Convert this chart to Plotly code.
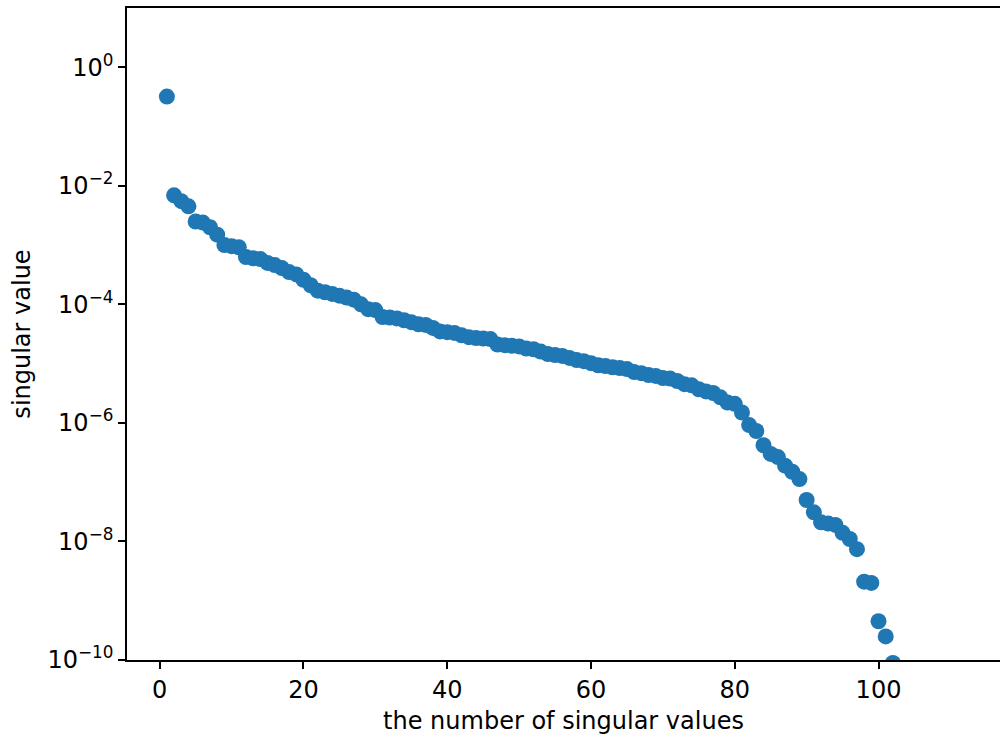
import plotly.graph_objects as go

# Singular values in descending order (index 1..102)
index = list(range(1, 103))
singular_values = [
    3.2e-1, 6.9e-3, 5.5e-3, 4.5e-3, 2.5e-3, 2.4e-3, 2.0e-3, 1.5e-3, 1.0e-3, 9.6e-4,
    9.2e-4, 6.3e-4, 6.0e-4, 5.8e-4, 5.0e-4, 4.6e-4, 4.1e-4, 3.5e-4, 3.2e-4, 2.6e-4,
    2.1e-4, 1.7e-4, 1.6e-4, 1.5e-4, 1.4e-4, 1.3e-4, 1.2e-4, 1.0e-4, 8.3e-5, 8.0e-5,
    6.1e-5, 6.0e-5, 5.8e-5, 5.4e-5, 5.0e-5, 4.6e-5, 4.5e-5, 4.0e-5, 3.5e-5, 3.4e-5,
    3.3e-5, 3.0e-5, 2.8e-5, 2.7e-5, 2.65e-5, 2.6e-5, 2.1e-5, 2.05e-5, 2.0e-5, 1.95e-5,
    1.8e-5, 1.75e-5, 1.6e-5, 1.45e-5, 1.4e-5, 1.35e-5, 1.25e-5, 1.15e-5, 1.1e-5, 1.02e-5,
    9.4e-6, 9.1e-6, 8.7e-6, 8.4e-6, 8.1e-6, 7.2e-6, 6.9e-6, 6.4e-6, 6.2e-6, 5.7e-6,
    5.6e-6, 5.1e-6, 4.5e-6, 4.3e-6, 3.7e-6, 3.4e-6, 3.2e-6, 2.7e-6, 2.2e-6, 2.1e-6,
    1.5e-6, 9.2e-7, 7.3e-7, 4.2e-7, 3.0e-7, 2.65e-7, 1.9e-7, 1.5e-7, 1.13e-7, 5.0e-8,
    3.1e-8, 2.1e-8, 2.0e-8, 1.9e-8, 1.4e-8, 1.1e-8, 7.4e-9, 2.1e-9, 2.0e-9, 4.5e-10,
    2.5e-10, 8.9e-11,
]

x_ticks = [0, 20, 40, 60, 80, 100]
y_tick_vals = [1e0, 1e-2, 1e-4, 1e-6, 1e-8, 1e-10]
y_tick_text = ["10<sup>0</sup>", "10<sup>\u22122</sup>", "10<sup>\u22124</sup>",
               "10<sup>\u22126</sup>", "10<sup>\u22128</sup>", "10<sup>\u221210</sup>"]

FONT = "DejaVu Sans"
FSIZE = 24

fig = go.Figure(
    go.Scatter(
        x=index,
        y=singular_values,
        mode="markers",
        marker=dict(color="#1f77b4", size=16, line=dict(width=0)),
        cliponaxis=True,
    )
)

fig.update_layout(
    width=1000,
    height=738,
    margin=dict(l=127, r=0, t=8, b=78),
    paper_bgcolor="white",
    plot_bgcolor="white",
    showlegend=False,
    font=dict(family=FONT, size=FSIZE, color="black"),
)

fig.update_xaxes(
    range=[-4.55, 116.9],
    tickvals=x_ticks,
    ticks="outside",
    ticklen=7,
    tickwidth=1.6,
    tickcolor="black",
    showline=True,
    linecolor="black",
    linewidth=1.6,
    mirror=True,
    showgrid=False,
    zeroline=False,
    tickfont=dict(family=FONT, size=FSIZE),
    title=dict(text="the number of singular values", font=dict(family=FONT, size=FSIZE), standoff=10),
)

fig.update_yaxes(
    type="log",
    range=[-10, 1.0],
    tickvals=y_tick_vals,
    ticktext=y_tick_text,
    ticks="outside",
    ticklen=7,
    tickwidth=1.6,
    tickcolor="black",
    showline=True,
    linecolor="black",
    linewidth=1.6,
    mirror=False,
    showgrid=False,
    zeroline=False,
    tickfont=dict(family=FONT, size=FSIZE),
    title=dict(text="singular value", font=dict(family=FONT, size=FSIZE), standoff=10),
)

fig.write_html("out.html")
